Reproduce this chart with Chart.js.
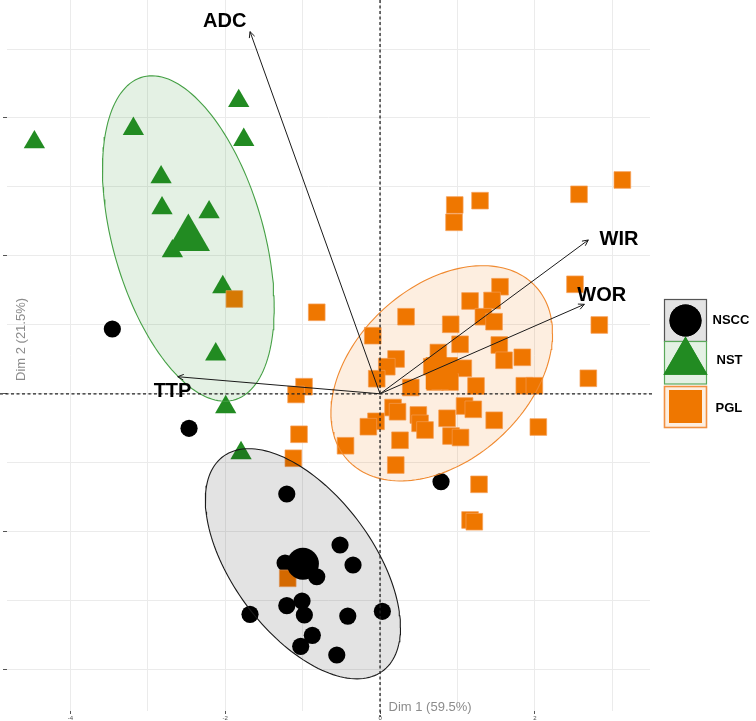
<!DOCTYPE html>
<html>
<head>
<meta charset="utf-8">
<script src="https://cdn.jsdelivr.net/npm/chart.js@4.4.1/dist/chart.umd.min.js"></script>
<style>
html,body{margin:0;padding:0;background:#fff;}
#wrap{width:756px;height:721px;position:relative;}
</style>
</head>
<body>
<div id="wrap"><canvas id="c" width="756" height="721"></canvas></div>
<script>
// ---------------- DATA ----------------
const groups = ['NSCC', 'NST', 'PGL'];

const nsccX = [-3.459, -2.468, -1.205, 0.788, -0.517, -0.349, -1.227, -0.818, -1.205, -1.008,
               -0.978, -1.680, -0.417, 0.030, -0.875, -1.025, -0.559, -1.047, -0.917];
const nsccY = [0.940, -0.500, -1.453, -1.275, -2.193, -2.483, -2.454, -2.653, -3.073, -3.005,
               -3.208, -3.198, -3.223, -3.154, -3.503, -3.662, -3.788, -2.394, -2.554];

const nstX = [-4.466, -3.187, -1.826, -1.761, -2.829, -2.817, -2.209, -2.683, -2.032, -2.123, -1.994, -1.796];
const nstY = [3.649, 3.842, 4.247, 3.684, 3.141, 2.692, 2.634, 2.068, 1.549, 0.573, -0.191, -0.860];

const pglX = [3.131, 2.571, 1.292, 0.965, 0.956, 2.519, 2.833, -0.818, 0.336, 1.550,
              1.163, 1.447, 1.335, 1.473, 0.913, -0.094, 1.034, 1.541, 1.602, 1.838,
              0.207, 0.087, -0.043, 0.397, 0.753, 0.668, 0.862, 1.076, 0.711, 0.904,
              1.240, 1.864, 1.994, 2.691, -0.982, -1.085, 0.168, 0.226, -0.052, -0.151,
              0.495, 0.517, 0.581, 0.866, 1.092, 1.205, 1.475, 2.045, 0.917, 1.040,
              0.258, -1.047, -0.446, -1.120, 0.203, 1.279, 1.163, 1.218, -1.882, -1.193,
              0.724, 0.879, 0.775, 0.827];
const pglY = [3.101, 2.893, 2.801, 2.738, 2.487, 1.588, 0.998, 1.182, 1.118, 1.553,
              1.346, 1.353, 1.118, 1.046, 1.008, 0.843, 0.718, 0.708, 0.486, 0.529,
              0.505, 0.393, 0.219, 0.091, 0.599, 0.393, 0.370, 0.370, 0.171, 0.171,
              0.113, 0.117, 0.117, 0.225, 0.103, -0.010, -0.199, -0.260, -0.399, -0.477,
              -0.307, -0.428, -0.525, -0.355, -0.177, -0.225, -0.384, -0.482, -0.612, -0.634,
              -0.674, -0.587, -0.753, -0.935, -1.033, -1.313, -1.830, -1.855, 1.375, -2.676,
              0.374, 0.258, 0.186, 0.389];

const variables = ['ADC', 'TTP', 'WIR', 'WOR'];
const loadX = [-1.680, -2.614, 2.691, 2.640];
const loadY = [5.252, 0.248, 2.231, 1.298];

const xTicks = [-4, -3, -2, -1, 0, 1, 2, 3];
const yTicks = [-4, -3, -2, -1, 0, 1, 2, 3, 4, 5];
const xTitle = 'Dim 1 (59.5%)';
const yTitle = 'Dim 2 (21.5%)';
const ellipseLevel = 0.632;

// ---------------- HELPERS ----------------
const FONT = '"Liberation Sans", Arial, Helvetica, sans-serif';
const colors = { NSCC: '#000000', NST: '#228B22', PGL: '#EF7700' };
const edgeColors = { NSCC: '#1a1a1a', NST: '#45a045', PGL: '#f08a30' };
const fills = { NSCC: 'rgba(0,0,0,0.11)', NST: 'rgba(34,139,34,0.12)', PGL: 'rgba(239,119,0,0.12)' };
const shapes = { NSCC: 'circle', NST: 'triangle', PGL: 'rect' };
const sizes = { NSCC: 8.6, NST: 12.3, PGL: 11.8 };
const meanSizes = { NSCC: 16, NST: 25, PGL: 22.6 };

function pts(xs, ys) { return xs.map((x, i) => ({ x: x, y: ys[i] })); }
function avg(a) { return a.reduce((s, v) => s + v, 0) / a.length; }
function ellipsePts(xs, ys, level) {
  const n = xs.length, mx = avg(xs), my = avg(ys);
  let sxx = 0, syy = 0, sxy = 0;
  for (let i = 0; i < n; i++) {
    const dx = xs[i] - mx, dy = ys[i] - my;
    sxx += dx * dx; syy += dy * dy; sxy += dx * dy;
  }
  sxx /= (n - 1); syy /= (n - 1); sxy /= (n - 1);
  const r = Math.sqrt(-2 * Math.log(1 - level));
  const l11 = Math.sqrt(sxx), l21 = sxy / l11, l22 = Math.sqrt(syy - l21 * l21);
  const out = [];
  for (let k = 0; k <= 160; k++) {
    const t = 2 * Math.PI * k / 160, c = Math.cos(t), s = Math.sin(t);
    out.push({ x: mx + r * l11 * c, y: my + r * (l21 * c + l22 * s) });
  }
  return out;
}

const groupData = {
  NSCC: [nsccX, nsccY],
  NST: [nstX, nstY],
  PGL: [pglX, pglY]
};

const datasets = [];
groups.forEach((g, gi) => {
  const [xs, ys] = groupData[g];
  datasets.push({
    label: g,
    data: pts(xs, ys),
    pointStyle: shapes[g],
    pointRadius: sizes[g],
    pointHoverRadius: sizes[g],
    backgroundColor: colors[g],
    borderColor: g === 'PGL' ? 'rgba(245,160,90,0.9)' : colors[g],
    pointBorderWidth: g === 'PGL' ? 0.8 : 0,
    order: 10 - gi
  });
});
groups.forEach((g) => {
  const [xs, ys] = groupData[g];
  datasets.push({
    label: g + ' ellipse',
    data: ellipsePts(xs, ys, ellipseLevel),
    showLine: true,
    fill: 'shape',
    backgroundColor: fills[g],
    borderColor: edgeColors[g],
    borderWidth: 1.1,
    pointRadius: 0,
    pointHoverRadius: 0,
    tension: 0,
    order: 5
  });
});
groups.forEach((g) => {
  const [xs, ys] = groupData[g];
  datasets.push({
    label: g + ' mean',
    data: [{ x: avg(xs), y: avg(ys) }],
    pointStyle: shapes[g],
    pointRadius: meanSizes[g],
    pointHoverRadius: meanSizes[g],
    backgroundColor: colors[g],
    borderColor: colors[g],
    pointBorderWidth: 0,
    order: 1
  });
});

// ---------------- OVERLAY PLUGIN ----------------
const overlay = {
  id: 'overlay',
  afterDatasetsDraw(chart, args, opts) {
    const ctx = chart.ctx, xs = chart.scales.x, ys = chart.scales.y, ca = chart.chartArea;
    const x0 = xs.getPixelForValue(0), y0 = ys.getPixelForValue(0);
    ctx.save();
    // dashed zero lines
    ctx.strokeStyle = '#222';
    ctx.lineWidth = 1.3;
    ctx.setLineDash([3, 2.5]);
    ctx.beginPath();
    ctx.moveTo(0, y0); ctx.lineTo(ca.right + 2, y0);
    ctx.moveTo(x0, ca.top); ctx.lineTo(x0, ca.bottom + 6);
    ctx.stroke();
    ctx.setLineDash([]);

    // arrows
    ctx.strokeStyle = '#1a1a1a';
    ctx.lineWidth = 1;
    variables.forEach((v, i) => {
      const tx = xs.getPixelForValue(loadX[i]), ty = ys.getPixelForValue(loadY[i]);
      ctx.beginPath(); ctx.moveTo(x0, y0); ctx.lineTo(tx, ty); ctx.stroke();
      const ang = Math.atan2(ty - y0, tx - x0), L = 6.5, a = 0.45;
      ctx.beginPath();
      ctx.moveTo(tx - L * Math.cos(ang - a), ty - L * Math.sin(ang - a));
      ctx.lineTo(tx, ty);
      ctx.lineTo(tx - L * Math.cos(ang + a), ty - L * Math.sin(ang + a));
      ctx.stroke();
    });
    // variable labels
    ctx.fillStyle = '#000';
    ctx.font = 'bold 20px ' + FONT;
    ctx.textAlign = 'center';
    ctx.textBaseline = 'alphabetic';
    variables.forEach((v, i) => {
      const tx = xs.getPixelForValue(loadX[i]), ty = ys.getPixelForValue(loadY[i]);
      const o = opts.labelOffsets[i];
      ctx.fillText(v, tx + o[0], ty + o[1]);
    });

    // axis titles
    ctx.fillStyle = '#8c8c8c';
    ctx.font = '13px ' + FONT;
    ctx.textAlign = 'left';
    ctx.fillText(xTitle, x0 + 8.5, ca.bottom - 0.5);
    ctx.save();
    ctx.translate(25, y0 - 12.8);
    ctx.rotate(-Math.PI / 2);
    ctx.fillText(yTitle, 0, 0);
    ctx.restore();

    // legend
    const lg = opts.legend;
    groups.forEach((g, i) => {
      const b = lg.boxes[i];
      ctx.fillStyle = '#fff';
      ctx.fillRect(b[0], b[1], b[2], b[3]);
      ctx.fillStyle = fills[g];
      ctx.fillRect(b[0], b[1], b[2], b[3]);
      ctx.strokeStyle = lg.borders[i];
      ctx.lineWidth = lg.borderWidths[i];
      ctx.strokeRect(b[0], b[1], b[2], b[3]);
    });
    groups.forEach((g, i) => {
      const p = lg.keyCenters[i];
      ctx.fillStyle = colors[g];
      ctx.strokeStyle = colors[g];
      Chart.helpers.drawPoint(ctx, { pointStyle: shapes[g], radius: lg.keySizes[i], rotation: 0, borderWidth: 0 }, p[0], p[1]);
      ctx.fill();
    });
    ctx.fillStyle = '#000';
    ctx.font = 'bold 13px ' + FONT;
    ctx.textAlign = 'left';
    ctx.textBaseline = 'middle';
    groups.forEach((g, i) => {
      const t = lg.textPos[i];
      ctx.fillText(g, t[0], t[1]);
    });
    ctx.restore();
  }
};

new Chart(document.getElementById('c'), {
  type: 'scatter',
  data: { datasets: datasets },
  options: {
    responsive: false,
    devicePixelRatio: 1,
    animation: false,
    events: [],
    layout: { autoPadding: false, padding: { left: 0, right: 106, top: 0, bottom: 0 } },
    plugins: {
      legend: { display: false },
      tooltip: { enabled: false },
      overlay: {
        labelOffsets: [[-25.3, -5], [-5.2, 20], [30.7, 5], [17.4, -3.3]],
        legend: {
          boxes: [[664.5, 299.5, 42, 42], [664.5, 341.5, 42, 42.5], [664.5, 386.5, 42, 41]],
          borders: ['#555555', '#5aa85a', '#f29040'],
          borderWidths: [1.2, 1.2, 1.6],
          keyCenters: [[685.5, 320.5], [685.5, 362], [685.5, 406.5]],
          keySizes: [16, 25.5, 23.3],
          textPos: [[712.5, 320], [716.5, 360.5], [715.5, 408]]
        }
      }
    },
    scales: {
      x: {
        type: 'linear',
        min: -4.82,
        max: 3.488,
        afterBuildTicks: (s) => { s.ticks = xTicks.map(v => ({ value: v })); },
        afterFit: (s) => { s.height = 10; },
        border: { display: false },
        grid: {
          color: '#ebebeb',
          lineWidth: 1,
          drawTicks: true,
          tickLength: 3,
          tickColor: (c) => (c.tick && c.tick.value % 2 === 0) ? '#555' : 'rgba(0,0,0,0)'
        },
        ticks: {
          autoSkip: false,
          maxRotation: 0,
          padding: 1,
          color: '#4d4d4d',
          font: { size: 6, family: FONT },
          callback: (v) => (v % 2 === 0 ? String(v) : '')
        }
      },
      y: {
        type: 'linear',
        min: -4.60,
        max: 5.711,
        afterBuildTicks: (s) => { s.ticks = yTicks.map(v => ({ value: v })); },
        afterFit: (s) => { s.width = 7; },
        border: { display: false },
        grid: {
          color: '#ebebeb',
          lineWidth: 1,
          drawTicks: true,
          tickLength: 4,
          tickColor: (c) => (c.tick && c.tick.value % 2 === 0) ? '#555' : 'rgba(0,0,0,0)'
        },
        ticks: { display: false }
      }
    }
  },
  plugins: [overlay]
});
</script>
</body>
</html>
